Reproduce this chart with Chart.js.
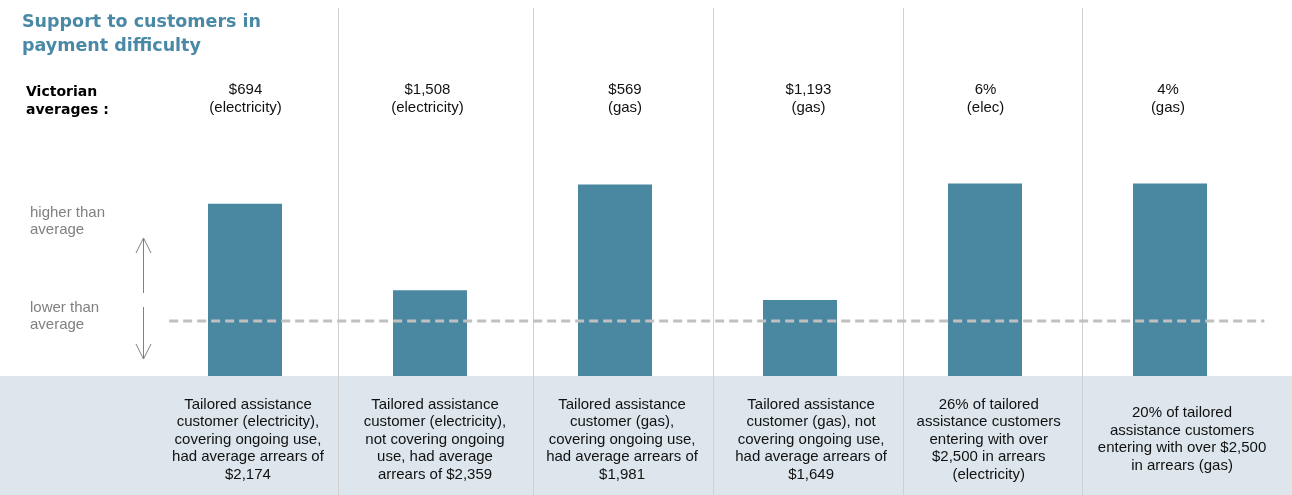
<!DOCTYPE html>
<html>
<head>
<meta charset="utf-8">
<script src="https://cdn.jsdelivr.net/npm/chart.js@4"></script>
<style>
  html, body { margin: 0; padding: 0; background: #fff; }
  canvas { display: block; }
</style>
</head>
<body>
<canvas id="chart" width="1292" height="495"></canvas>
<script>
// Datos: arrears relative to the Victorian average (1 = average)
const categorias = ['elec-ongoing', 'elec-not-ongoing', 'gas-ongoing', 'gas-not-ongoing', 'elec-over-2500', 'gas-over-2500'];
const valores = [3.13, 1.56, 3.48, 1.38, 3.5, 3.5];
const promedio = 1;

// Victorian averages shown above each column
const promediosTexto = [
  ['$694', '(electricity)'],
  ['$1,508', '(electricity)'],
  ['$569', '(gas)'],
  ['$1,193', '(gas)'],
  ['6%', '(elec)'],
  ['4%', '(gas)']
];
const promediosPos = [0.003, 0.986, 2.054, 3.046, 4.003, 4.989];

// Descriptions in the bottom band
const descripciones = [
  ['Tailored assistance', 'customer (electricity),', 'covering ongoing use,', 'had average arrears of', '$2,174'],
  ['Tailored assistance', 'customer (electricity),', 'not covering ongoing', 'use, had average', 'arrears of $2,359'],
  ['Tailored assistance', 'customer (gas),', 'covering ongoing use,', 'had average arrears of', '$1,981'],
  ['Tailored assistance', 'customer (gas), not', 'covering ongoing use,', 'had average arrears of', '$1,649'],
  ['26% of tailored', 'assistance customers', 'entering with over', '$2,500 in arrears', '(electricity)'],
  ['20% of tailored', 'assistance customers', 'entering with over $2,500', 'in arrears (gas)']
];
const descripcionesPos = [0.016, 1.027, 2.038, 3.06, 4.02, 5.065];

// Column separators (in category units)
const separadores = [0.505, 1.559, 2.53, 3.557, 4.524];
const lineaDesde = -0.41, lineaHasta = 5.51;

const azul = '#4a87a1';

const decoracion = {
  id: 'decoracion',
  beforeDraw(chart) {
    const { ctx } = chart;
    const x = chart.scales.x, y = chart.scales.y;
    const base = y.getPixelForValue(0);
    // bottom band
    ctx.save();
    ctx.fillStyle = '#dce6ec';
    ctx.fillRect(0, base, chart.width, chart.height - base);
    // separators
    const paso = x.getPixelForValue(1) - x.getPixelForValue(0);
    ctx.strokeStyle = '#d0d0d0';
    ctx.lineWidth = 1;
    separadores.forEach(s => {
      const px = Math.round(x.getPixelForValue(0) + s * paso) + 0.5;
      ctx.beginPath();
      ctx.moveTo(px, 8);
      ctx.lineTo(px, chart.height);
      ctx.stroke();
    });
    ctx.restore();
  },
  afterDatasetsDraw(chart) {
    const { ctx } = chart;
    const x = chart.scales.x, y = chart.scales.y;
    const paso = x.getPixelForValue(1) - x.getPixelForValue(0);
    const x0 = x.getPixelForValue(0);
    const py = y.getPixelForValue(promedio);
    // average dashed line
    ctx.save();
    ctx.strokeStyle = '#c0c0c0';
    ctx.lineWidth = 3;
    ctx.setLineDash([9, 5]);
    ctx.beginPath();
    ctx.moveTo(x0 + lineaDesde * paso, py);
    ctx.lineTo(x0 + lineaHasta * paso, py);
    ctx.stroke();
    ctx.setLineDash([]);

    // title
    ctx.fillStyle = '#4a89a6';
    ctx.font = 'bold 17.5px "DejaVu Sans"';
    ctx.textAlign = 'left';
    ctx.textBaseline = 'middle';
    ctx.fillText('Support to customers in', 22, 22);
    ctx.fillText('payment difficulty', 22, 46);

    ctx.fillStyle = '#000';
    ctx.font = 'bold 14px "DejaVu Sans"';
    ctx.fillText('Victorian', 26, 92);
    ctx.fillText('averages :', 26, 110);

    // higher / lower annotation
    ctx.fillStyle = '#808080';
    ctx.font = '15px "Liberation Sans", Arial';
    ctx.fillText('higher than', 30, 213);
    ctx.fillText('average', 30, 230);
    ctx.fillText('lower than', 30, 308);
    ctx.fillText('average', 30, 325);

    ctx.strokeStyle = '#808080';
    ctx.lineWidth = 1;
    ctx.beginPath();
    ctx.moveTo(143.5, 293); ctx.lineTo(143.5, 238);
    ctx.moveTo(136, 253); ctx.lineTo(143.5, 238); ctx.lineTo(151, 253);
    ctx.moveTo(143.5, 307); ctx.lineTo(143.5, 359);
    ctx.moveTo(136, 344); ctx.lineTo(143.5, 359); ctx.lineTo(151, 344);
    ctx.stroke();

    // top labels
    ctx.fillStyle = '#111';
    ctx.font = '15px "Liberation Sans", Arial';
    ctx.textAlign = 'center';
    promediosTexto.forEach((lineas, i) => {
      const px = x0 + promediosPos[i] * paso;
      lineas.forEach((t, j) => ctx.fillText(t, px, 90 + j * 17.5));
    });

    // bottom descriptions
    const base = y.getPixelForValue(0);
    const centro = base + (chart.height - base) / 2 + 4;
    descripciones.forEach((lineas, i) => {
      const px = x0 + descripcionesPos[i] * paso;
      const inicio = centro - (lineas.length - 1) * 17.5 / 2;
      lineas.forEach((t, j) => ctx.fillText(t, px, inicio + j * 17.5));
    });
    ctx.restore();
  }
};

new Chart(document.getElementById('chart').getContext('2d'), {
  type: 'bar',
  data: {
    labels: categorias,
    datasets: [{
      data: valores,
      backgroundColor: azul,
      borderWidth: 0,
      categoryPercentage: 1,
      barPercentage: 0.4
    }]
  },
  options: {
    responsive: false,
    animation: false,
    layout: { padding: { left: 152.5, right: 29.5, top: 128.5, bottom: 119 } },
    plugins: { legend: { display: false }, tooltip: { enabled: false } },
    scales: {
      x: { display: false },
      y: { display: false, min: 0, max: 4.5 }
    }
  },
  plugins: [decoracion]
});
</script>
</body>
</html>
